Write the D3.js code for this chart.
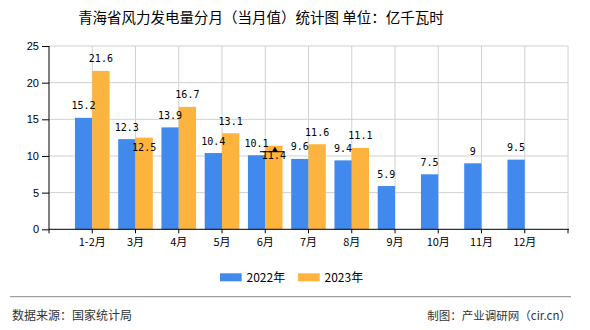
<!DOCTYPE html>
<html><head><meta charset="utf-8">
<script src="https://cdn.jsdelivr.net/npm/d3@7"></script>
<style>body{margin:0;background:#fff;}svg{display:block;}</style>
</head><body><svg id="c" width="590" height="330"></svg>
<script>
const categories = ["1-2月","3月","4月","5月","6月","7月","8月","9月","10月","11月","12月"];
const series2022 = [15.2,12.3,13.9,10.4,10.1,9.6,9.4,5.9,7.5,9,9.5];
const series2023 = [21.6,12.5,16.7,13.1,11.4,11.6,11.1,null,null,null,null];
const seriesNames = ["2022年","2023年"];
const yTicks = [0,5,10,15,20,25];
const title = "青海省风力发电量分月（当月值）统计图 单位：亿千瓦时";
const sourceText = "数据来源：国家统计局";
const creditText = "制图：产业调研网（cir.cn）";

const colors = ["#4189ED","#FCB43F"];
const svg = d3.select("#c");
const L = 49, R = 568, T = 46, B = 229.3;
const x = d3.scalePoint().domain(categories).range([L, R]).padding(1);
const y = d3.scaleLinear().domain([0,25]).range([B, T]);
const step = x.step();
const bw = step * 0.4;
const cjk = "'Noto Sans CJK SC', sans-serif";

// title
svg.append("text").attr("x", 261).attr("y", 23).attr("text-anchor","middle")
  .attr("font-family", cjk).attr("font-size", 14.5).attr("fill","#000").text(title);

// grid
const g = svg.append("g");
g.selectAll(".hg").data(yTicks.filter(d=>d>0)).join("line")
  .attr("x1", L).attr("x2", R).attr("y1", d=>y(d)).attr("y2", d=>y(d))
  .attr("stroke","#d0d0d0").attr("stroke-width",1);
const vPos = categories.map(c=>x(c)).concat([R]);
g.selectAll(".vg").data(vPos).join("line")
  .attr("x1", d=>d).attr("x2", d=>d).attr("y1", T).attr("y2", B)
  .attr("stroke","#d0d0d0").attr("stroke-width",1);

// bars
const data = categories.map((c,i)=>({c, a:series2022[i], b:series2023[i]}));
g.selectAll(".b1").data(data).join("rect")
  .attr("x", d=>x(d.c)-bw).attr("width", bw)
  .attr("y", d=>y(d.a)).attr("height", d=>B-y(d.a)).attr("fill", colors[0]);
g.selectAll(".b2").data(data.filter(d=>d.b!=null)).join("rect")
  .attr("x", d=>x(d.c)).attr("width", bw)
  .attr("y", d=>y(d.b)).attr("height", d=>B-y(d.b)).attr("fill", colors[1]);

// axes
const yAxis = d3.axisLeft(y).tickValues(yTicks).tickSize(7).tickPadding(3);
const ya = svg.append("g").attr("transform",`translate(${L},0)`).call(yAxis);
ya.select(".domain").attr("d", `M0,${T}V${B}`).attr("stroke","#000");
ya.selectAll("text").attr("font-family","'Liberation Sans', sans-serif").attr("font-size",11).attr("fill","#000");
ya.selectAll(".tick line").attr("stroke","#000");

const xa = svg.append("g").attr("transform",`translate(0,${B})`);
xa.append("line").attr("x1",L).attr("x2",R+1).attr("stroke","#000");
xa.selectAll(".xt").data([L].concat(vPos)).join("line")
  .attr("x1",d=>d).attr("x2",d=>d).attr("y1",0).attr("y2",4).attr("stroke","#000");
xa.selectAll(".xl").data(categories).join("text")
  .attr("x", d=>x(d)).attr("y", 17).attr("text-anchor","middle")
  .attr("font-family", cjk).attr("font-size", 11).attr("fill","#000").text(d=>d);

// value labels
const lf = "'DejaVu Sans Mono', monospace";
const lab = svg.append("g").attr("font-family", lf).attr("font-size", 10).attr("fill","#000").attr("text-anchor","middle");
data.forEach(d=>{
  const ya1 = y(d.a) - 8.5;
  lab.append("text").attr("x", x(d.c)-bw/2).attr("y", ya1).text(d.a);
  if (d.b!=null){
    let yb = y(d.b) - 8.5;
    if (Math.abs(yb - ya1) < 12) yb = y(d.b) + 13;
    lab.append("text").attr("x", x(d.c)+bw/2).attr("y", yb).text(d.b);
  }
});

// small marker on 6月
const mc = x("6月")+bw/2+1, my = y(series2023[4]);
svg.append("path").attr("d", `M${mc},${my+1}L${mc+3},${my+6}L${mc-3},${my+6}Z`).attr("fill","#000");
svg.append("line").attr("x1", mc-15).attr("x2", mc+9).attr("y1", my+6).attr("y2", my+6).attr("stroke","#000");

// legend
const lg = svg.append("g");
[0,1].forEach(i=>{
  const lx = 220 + i*78;
  lg.append("rect").attr("x", lx).attr("y", 273.3).attr("width", 21.7).attr("height", 8).attr("fill", colors[i]);
  lg.append("text").attr("x", lx+26.5).attr("y", 281.5).attr("font-family", cjk).attr("font-size", 12)
    .attr("fill","#000").text(seriesNames[i]);
});

// footer
svg.append("line").attr("x1",10).attr("x2",571).attr("y1",296.7).attr("y2",296.7).attr("stroke","#888").attr("stroke-width",1);
svg.append("text").attr("x",12).attr("y",320).attr("font-family",cjk).attr("font-size",12).attr("fill","#333").text(sourceText);
svg.append("text").attr("x",571).attr("y",320).attr("text-anchor","end").attr("font-family",cjk).attr("font-size",11.5).attr("fill","#333").text(creditText);
</script></body></html>
